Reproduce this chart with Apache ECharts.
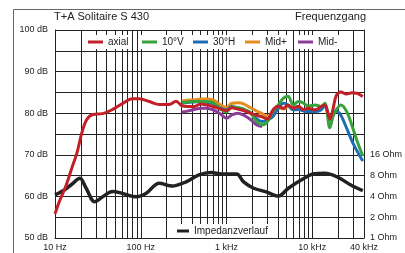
<!DOCTYPE html>
<html>
<head>
<meta charset="utf-8">
<script src="https://cdn.jsdelivr.net/npm/echarts@6/dist/echarts.min.js"></script>
<style>
  html, body { margin: 0; padding: 0; background: #fff; }
  #chart { width: 405px; height: 253px; }
</style>
</head>
<body>
<div id="chart"></div>
<script>
// frequency response, values in dB
const freqAxial = [10, 11.4, 13.4, 15.7, 18, 20.5, 23.4, 27.5, 36, 47, 61, 80, 96, 126, 164, 215, 258,
  300, 350, 420, 500, 580, 700, 850, 1000, 1150, 1350, 1600, 1900, 2250, 2600, 3000, 3500, 4000, 4600,
  5200, 6000, 6900, 7800, 9000, 10800, 12600, 14000, 16000, 17400, 19000, 21500, 25000, 29000, 33000, 38700];
const axial = [55.8, 59.1, 62.5, 66.8, 70.4, 75.2, 78.4, 79.7, 79.9, 80.9, 82.3, 83.5, 83.5, 82.8, 82.1, 82.1, 82.9,
  81.8, 81.6, 81.6, 82.2, 82.0, 81.6, 81.0, 80.6, 81.3, 81.0, 80.6, 80.0, 79.5, 79.1, 78.6, 80.9, 81.7, 81.2,
  82.0, 81.2, 81.7, 80.9, 81.2, 80.8, 81.6, 82.0, 78.6, 81.0, 84.2, 85.1, 84.6, 84.9, 84.8, 84.0];

const freqOff = [300, 350, 420, 500, 580, 700, 850, 1000, 1150, 1350, 1600, 1900, 2250, 2600, 3000, 3500, 4000, 4600,
  5200, 6000, 6900, 7800, 9000, 10800, 12600, 14000, 16000, 17400, 19000, 21500, 25000, 29000, 33000, 38700];
const vert10 = [82.5, 82.7, 82.8, 82.8, 82.8, 82.5, 81.0, 80.3, 81.5, 81.3, 81.0, 80.0, 78.0, 77.2, 78.0, 80.6, 82.0, 83.6,
  84.1, 82.0, 82.8, 82.5, 81.7, 82.0, 81.6, 82.4, 76.5, 79.2, 80.8, 82.0, 80.5, 77.0, 73.5, 69.7];
const hor30 = [82.4, 82.6, 82.7, 82.8, 82.6, 82.3, 81.2, 80.8, 81.6, 81.3, 80.8, 80.2, 78.6, 78.0, 78.4, 79.3, 81.2, 82.4,
  82.0, 80.8, 80.9, 80.6, 80.4, 80.4, 80.8, 81.8, 78.4, 80.0, 80.5, 79.5, 76.5, 73.3, 71.0, 68.5];
const midPlus = [82.9, 83.1, 83.2, 83.4, 83.4, 83.2, 82.0, 81.4, 82.4, 82.5, 82.2, 81.3, 80.5, 79.9, 79.3, 79.8, 81.3, 81.0,
  81.6, 80.9, 81.3, 80.6, 80.8];
const midMinus = [80.3, 80.5, 80.9, 81.2, 81.2, 80.8, 79.8, 78.8, 79.6, 80.0, 79.5, 78.5, 77.2, 76.8];

// impedance, Ohm
const freqImp = [10, 13, 15.7, 19.5, 23, 29, 36, 47, 60, 89, 116, 164, 232, 337, 477, 656, 880, 1310, 1580,
  2070, 2840, 4020, 5250, 7410, 10200, 14000, 19900, 28100, 38700];
const impedance = [4.2, 5.0, 6.0, 7.3, 5.3, 3.35, 3.95, 4.7, 4.45, 3.95, 4.45, 6.2, 5.65, 6.5, 8.2, 8.9, 8.45, 8.45, 6.5,
  5.25, 4.7, 4.05, 5.25, 6.9, 8.45, 8.65, 7.55, 5.85, 4.85];

const gridFreqs = [20, 30, 40, 50, 60, 70, 80, 90, 200, 300, 400, 500, 600, 700, 800, 900,
  2000, 3000, 4000, 5000, 6000, 7000, 8000, 9000, 20000, 30000];

const FONT = 'Liberation Sans';
const TXT = '#222';

const pairs = (xs, ys) => ys.map((v, i) => [xs[i], v]);

function freqLabel(v) {
  v = Math.round(v);
  return v >= 1000 ? v / 1000 + ' kHz' : v + ' Hz';
}

function legendBox(name, left, top, w) {
  return {
    data: [name],
    left: left,
    top: top,
    icon: 'rect',
    itemWidth: w || 15,
    itemHeight: 3,
    backgroundColor: '#fff',
    padding: [1, 3, 1, 3],
    selectedMode: false,
    textStyle: { fontFamily: FONT, fontSize: 10, color: TXT, lineHeight: 12 },
  };
}

function curve(name, xs, ys, color, z) {
  return {
    name: name,
    type: 'line',
    data: pairs(xs, ys),
    showSymbol: false,
    smooth: 0.35,
    z: z,
    lineStyle: { color: color, width: 3 },
    itemStyle: { color: color },
  };
}

const chart = echarts.init(document.getElementById('chart'));
chart.setOption({
  animation: false,
  title: [
    { text: 'T+A Solitaire S 430', left: 54, top: 11, padding: 0,
      textStyle: { fontFamily: FONT, fontSize: 11, fontWeight: 'normal', color: TXT } },
    { text: 'Frequenzgang', right: 39, top: 11, padding: 0,
      textStyle: { fontFamily: FONT, fontSize: 11, fontWeight: 'normal', color: TXT } },
  ],
  graphic: [
    { type: 'rect', silent: true, z: -1,
      shape: { x: 13.5, y: 9.5, width: 450, height: 300 },
      style: { fill: 'transparent', stroke: '#666', lineWidth: 1 } },
  ],
  legend: [
    legendBox('axial', 85, 35),
    legendBox('10°V', 139, 35),
    legendBox('30°H', 190, 35),
    legendBox('Mid+', 242, 35),
    legendBox('Mid-', 295, 35),
    legendBox('Impedanzverlauf', 174, 224, 12),
  ],
  grid: { left: 55, right: 39, top: 30, bottom: 15 },
  xAxis: {
    type: 'log',
    logBase: 10,
    min: 10,
    max: 40000,
    interval: 1,
    axisLine: { show: true, lineStyle: { color: '#222', width: 1 } },
    axisTick: { show: false },
    splitLine: { show: true, lineStyle: { color: '#222', width: 1 } },
    axisLabel: { fontFamily: FONT, fontSize: 9, color: TXT, margin: 5, formatter: freqLabel },
  },
  yAxis: [
    {
      type: 'value',
      min: 50,
      max: 100,
      interval: 5,
      axisLine: { show: true, lineStyle: { color: '#222', width: 1 } },
      axisTick: { show: false },
      splitLine: { show: true, lineStyle: { color: '#222', width: 1 } },
      axisLabel: { fontFamily: FONT, fontSize: 9, color: TXT, margin: 7,
        formatter: (v) => (v % 10 === 0 ? v + ' dB' : '') },
    },
    {
      type: 'log',
      logBase: 2,
      min: 1,
      max: 1024,
      interval: 1,
      position: 'right',
      axisLine: { show: true, lineStyle: { color: '#222', width: 1 } },
      axisTick: { show: false },
      splitLine: { show: false },
      axisLabel: { fontFamily: FONT, fontSize: 9, color: TXT, margin: 6,
        formatter: (v) => (Math.round(v) <= 16 ? Math.round(v) + ' Ohm' : '') },
    },
  ],
  series: [
    {
      type: 'line',
      data: [],
      silent: true,
      markLine: {
        silent: true,
        z: 1,
        symbol: 'none',
        label: { show: false },
        lineStyle: { color: '#222', width: 1, type: 'solid' },
        data: gridFreqs.map((f) => ({ xAxis: f })),
      },
    },
    Object.assign(curve('Impedanzverlauf', freqImp, impedance, '#222', 2), {
      yAxisIndex: 1, lineStyle: { color: '#222', width: 3.5 } }),
    curve('Mid-', freqOff, midMinus, '#8c3b97', 3),
    curve('Mid+', freqOff, midPlus, '#e38d1e', 4),
    curve('30°H', freqOff, hor30, '#1c6db4', 5),
    curve('10°V', freqOff, vert10, '#36a23c', 6),
    curve('axial', freqAxial, axial, '#c21f27', 7),
  ],
});
</script>
</body>
</html>
